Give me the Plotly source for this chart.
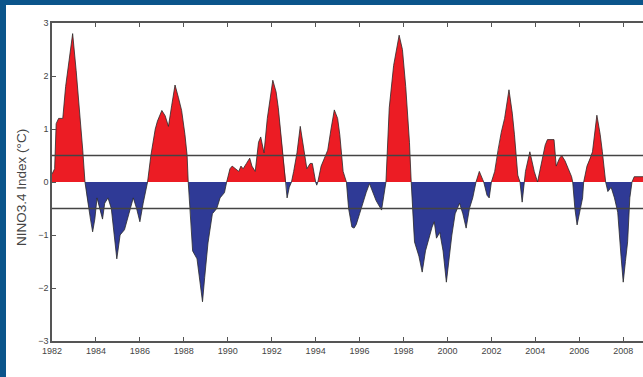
import plotly.graph_objects as go

# ---- data (decimal year, Nino3.4 anomaly in degC) ----
years = [
    1982.0, 1982.12, 1982.19, 1982.3, 1982.49, 1982.62, 1982.78, 1982.94, 1983.1, 1983.25, 1983.4, 1983.5,
    1983.6, 1983.75, 1983.85, 1983.95, 1984.05, 1984.2, 1984.3, 1984.4, 1984.55, 1984.7, 1984.8, 1984.95,
    1985.1, 1985.3, 1985.5, 1985.7, 1985.85, 1986.0, 1986.15, 1986.3, 1986.35,
    1986.5, 1986.7, 1986.8, 1987.0, 1987.15, 1987.3, 1987.45, 1987.6, 1987.75, 1987.9, 1988.05, 1988.15, 1988.2,
    1988.3, 1988.4, 1988.6, 1988.75, 1988.85, 1988.95, 1989.1, 1989.3, 1989.5, 1989.65, 1989.85, 1989.95,
    1990.1, 1990.2, 1990.35, 1990.5, 1990.6, 1990.7, 1990.85, 1991.0, 1991.1, 1991.25, 1991.4, 1991.5,
    1991.65, 1991.8, 1992.05, 1992.2, 1992.3, 1992.45, 1992.55, 1992.65, 1992.7, 1992.8, 1992.9,
    1993.0, 1993.15, 1993.3, 1993.45, 1993.6, 1993.75, 1993.85, 1994.0, 1994.05, 1994.1,
    1994.25, 1994.4, 1994.55, 1994.7, 1994.85, 1995.0, 1995.1, 1995.25, 1995.35, 1995.4,
    1995.5, 1995.65, 1995.75, 1995.85, 1996.0, 1996.15, 1996.3, 1996.45, 1996.55, 1996.75, 1997.0, 1997.1, 1997.2,
    1997.35, 1997.55, 1997.8, 1997.95, 1998.1, 1998.27, 1998.35,
    1998.45, 1998.5, 1998.7, 1998.85, 1999.0, 1999.15, 1999.3, 1999.4, 1999.5, 1999.65, 1999.8, 1999.95,
    2000.1, 2000.2, 2000.35, 2000.55, 2000.7, 2000.85, 2001.0, 2001.15, 2001.3,
    2001.45, 2001.6, 2001.65, 2001.8, 2001.9, 2002.0,
    2002.15, 2002.3, 2002.45, 2002.6, 2002.8, 2002.95, 2003.05, 2003.2, 2003.3, 2003.4, 2003.5,
    2003.55, 2003.75, 2003.95, 2004.1, 2004.25, 2004.45, 2004.55, 2004.85, 2004.95, 2005.1, 2005.2,
    2005.35, 2005.5, 2005.65, 2005.7, 2005.8, 2005.9, 2006.05, 2006.15, 2006.2,
    2006.35, 2006.5, 2006.6, 2006.8, 2006.95, 2007.05, 2007.2,
    2007.3, 2007.45, 2007.6, 2007.75, 2007.9, 2008.0, 2008.1, 2008.2, 2008.3, 2008.4,
    2008.5, 2008.95,
]
nino34 = [
    0.15, 0.25, 1.1, 1.2, 1.2, 1.8, 2.3, 2.8, 2.1, 1.4, 0.6, 0.0,
    -0.3, -0.7, -0.94, -0.7, -0.3, -0.55, -0.7, -0.4, -0.3, -0.5, -0.9, -1.45,
    -1.0, -0.9, -0.6, -0.3, -0.5, -0.75, -0.4, -0.1, 0.0,
    0.5, 1.0, 1.15, 1.35, 1.25, 1.05, 1.45, 1.83, 1.6, 1.35, 0.9, 0.5, 0.0,
    -0.6, -1.3, -1.45, -1.9, -2.26, -1.8, -1.15, -0.6, -0.5, -0.3, -0.2, 0.0,
    0.25, 0.3, 0.25, 0.2, 0.3, 0.25, 0.35, 0.45, 0.3, 0.2, 0.75, 0.85,
    0.55, 1.2, 1.92, 1.7, 1.4, 0.8, 0.3, 0.0, -0.3, -0.1, 0.0,
    0.2, 0.55, 1.05, 0.6, 0.25, 0.35, 0.35, 0.0, -0.06, 0.0,
    0.3, 0.45, 0.6, 1.0, 1.36, 1.2, 0.89, 0.2, 0.05, 0.0,
    -0.5, -0.85, -0.87, -0.8, -0.6, -0.38, -0.2, -0.03, -0.15, -0.35, -0.53, -0.3, 0.0,
    1.4, 2.2, 2.77, 2.5, 1.8, 0.75, 0.0,
    -0.8, -1.13, -1.4, -1.7, -1.3, -1.07, -0.85, -0.75, -1.06, -0.95, -1.3, -1.89,
    -1.3, -1.0, -0.6, -0.4, -0.6, -0.87, -0.5, -0.3, 0.0,
    0.2, 0.05, 0.0, -0.25, -0.3, 0.0,
    0.2, 0.6, 0.94, 1.2, 1.74, 1.3, 0.89, 0.13, 0.0, -0.38, 0.0,
    0.2, 0.57, 0.2, 0.0, 0.3, 0.7, 0.8, 0.8, 0.3, 0.45, 0.5,
    0.4, 0.25, 0.1, 0.0, -0.5, -0.81, -0.5, -0.3, 0.0,
    0.3, 0.45, 0.57, 1.26, 0.9, 0.57, 0.0,
    -0.18, -0.1, -0.3, -0.57, -1.4, -1.89, -1.5, -1.13, -0.3, 0.0,
    0.1, 0.1,
]
x_ticks = list(range(1982, 2010, 2))
x_tick_labels = [str(v) for v in x_ticks]
y_ticks = [-3, -2, -1, 0, 1, 2, 3]
y_tick_labels = ["\u22123", "\u22122", "\u22121", "0", "1", "2", "3"]
thresholds = [0.5, -0.5]
y_title = "NINO3.4 Index (\u00b0C)"

RED = "#EC1C24"
BLUE = "#2F3A96"
FRAME = "#0B558B"
AXIS = "#555555"

W, H = 643, 377
ML, MR, MT, MB = 52, 0, 23, 36
PW, PH = W - ML - MR, H - MT - MB

pos = [max(v, 0.0) for v in nino34]
neg = [min(v, 0.0) for v in nino34]

fig = go.Figure()
fig.add_trace(go.Scatter(x=years, y=pos, mode="lines", fill="tozeroy", fillcolor=RED,
                         line=dict(width=0, color=RED), hoverinfo="skip", showlegend=False))
fig.add_trace(go.Scatter(x=years, y=neg, mode="lines", fill="tozeroy", fillcolor=BLUE,
                         line=dict(width=0, color=BLUE), hoverinfo="skip", showlegend=False))
fig.add_trace(go.Scatter(x=years, y=nino34, mode="lines",
                         line=dict(width=0.8, color="#2a2a2a"), showlegend=False))

for t in thresholds:
    fig.add_shape(type="line", xref="paper", x0=0, x1=1, yref="y", y0=t, y1=t,
                  line=dict(color="#444444", width=1.5))


def px_x(p):
    return (p - ML) / PW


def px_y(p):
    return (H - MB - p) / PH


# dark blue frame (top and left edges)
fig.add_shape(type="rect", xref="paper", yref="paper", x0=px_x(0), x1=px_x(6), y0=px_y(H), y1=px_y(0),
              fillcolor=FRAME, line=dict(width=0), layer="above")
fig.add_shape(type="rect", xref="paper", yref="paper", x0=px_x(0), x1=px_x(W), y0=px_y(5), y1=px_y(0),
              fillcolor=FRAME, line=dict(width=0), layer="above")

fig.add_annotation(text=y_title, xref="paper", yref="paper", x=px_x(21), y=px_y(188),
                   textangle=-90, showarrow=False, xanchor="center", yanchor="middle",
                   font=dict(family="Liberation Sans, Arial", size=13.5, color="#444444"))

fig.update_layout(
    width=W, height=H,
    margin=dict(l=ML, r=MR, t=MT, b=MB, pad=0),
    paper_bgcolor="white", plot_bgcolor="white",
    showlegend=False,
    font=dict(family="Liberation Sans, Arial", size=9, color="#444444"),
    xaxis=dict(range=[1982, 2008.9], tickvals=x_ticks, ticktext=x_tick_labels,
               ticks="inside", ticklen=4, tickcolor=AXIS, showgrid=False, zeroline=False,
               showline=True, linecolor=AXIS, linewidth=1.5, mirror="ticks", automargin=False),
    yaxis=dict(range=[-3, 3], tickvals=y_ticks, ticktext=y_tick_labels,
               ticks="inside", ticklen=4, tickcolor=AXIS, showgrid=False, zeroline=False,
               showline=True, linecolor=AXIS, linewidth=1.5, automargin=False),
)

fig.write_html("out.html", config={"displayModeBar": False},
               post_script="document.body.style.margin='0';document.body.style.padding='0';")
